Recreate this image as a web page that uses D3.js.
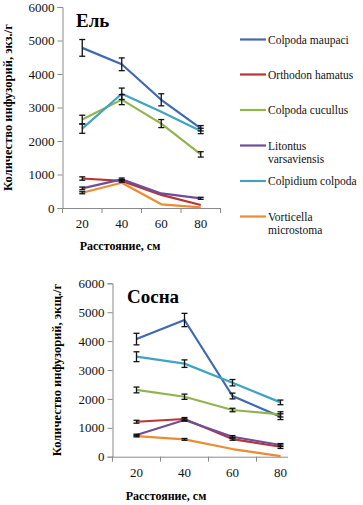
<!DOCTYPE html>
<html>
<head>
<meta charset="utf-8">
<script src="https://cdn.jsdelivr.net/npm/d3@7"></script>
</head>
<body style="margin:0">
<svg id="chart" width="363" height="505"></svg>
<script>
const distances = ["20", "40", "60", "80"];
const speciesNames = ["Colpoda maupaci", "Orthodon hamatus", "Colpoda cucullus",
  "Litontus varsaviensis", "Colpidium colpoda", "Vorticella microstoma"];
const speciesColors = ["#3f68b0", "#b83532", "#90b44e", "#6c4f9c", "#3ea4c0", "#ee8a32"];
const yTicks = [0, 1000, 2000, 3000, 4000, 5000, 6000];

// Ель
const spruceMeans = [
  [4780, 4290, 3230, 2380],
  [880, 810, 390, 90],
  [2640, 3235, 2520, 1600],
  [585, 855, 435, 290],
  [2370, 3410, 2870, 2300],
  [455, 755, 110, 20]
];
const spruceErrors = [
  [250, 190, 180, 80],
  [50, 40, 0, 0],
  [130, 150, 120, 80],
  [40, 40, 0, 30],
  [140, 170, 0, 80],
  [30, 0, 0, 0]
];

// Сосна
const pineMeans = [
  [4070, 4730, 2100, 1385],
  [1210, 1305, 610, 345],
  [2310, 2075, 1615, 1465],
  [750, 1270, 690, 405],
  [3460, 3220, 2560, 1880],
  [715, 600, 265, 20]
];
const pineErrors = [
  [200, 230, 100, 100],
  [50, 50, 40, 60],
  [100, 90, 60, 90],
  [30, 40, 40, 50],
  [170, 130, 110, 80],
  [30, 30, 0, 0]
];

const serif = "Liberation Serif";
const svg = d3.select("#chart");

function panel(opts) {
  const x = d3.scaleBand().domain(distances).range([opts.left, opts.right]);
  const y = d3.scaleLinear().domain([0, 6000]).range([opts.bottom, opts.top]);
  const g = svg.append("g");

  // y axis
  const yAxis = g.append("g")
    .attr("transform", `translate(${opts.left},0)`)
    .call(d3.axisLeft(y).tickValues(yTicks).tickSize(5).tickPadding(3).tickFormat(d3.format("d")))
    .attr("font-family", null).attr("font-size", null);
  yAxis.select(".domain").attr("stroke", "#8a8a8a");
  yAxis.selectAll(".tick line").attr("stroke", "#8a8a8a");
  yAxis.selectAll("text").attr("font-size", 13).style("font-family", serif).attr("fill", "#111");

  // x axis: labels centred in bands, tick marks between categories
  const xAxis = g.append("g")
    .attr("transform", `translate(0,${opts.bottom})`)
    .call(d3.axisBottom(x).tickSize(0).tickPadding(11))
    .attr("font-family", null).attr("font-size", null);
  xAxis.select(".domain").remove();
  xAxis.selectAll("text").attr("font-size", 13).style("font-family", serif).attr("fill", "#111");
  const axisEnd = opts.axisEnd || opts.right;
  const edges = distances.map(d => x(d)).concat([x.range()[1]]);
  g.append("line")
    .attr("x1", opts.left).attr("x2", axisEnd)
    .attr("y1", opts.bottom + 0.5).attr("y2", opts.bottom + 0.5)
    .attr("stroke", "#8a8a8a");
  g.selectAll(".xtick").data(edges.filter(e => e <= axisEnd + 0.5))
    .join("line")
    .attr("x1", d => d).attr("x2", d => d)
    .attr("y1", opts.bottom).attr("y2", opts.bottom + 5)
    .attr("stroke", "#8a8a8a");

  const cx = d => x(d) + x.bandwidth() / 2;
  const line = d3.line().x((v, i) => cx(distances[i])).y(v => y(v));

  opts.means.forEach((series, s) => {
    g.append("path")
      .datum(series)
      .attr("d", line)
      .attr("fill", "none")
      .attr("stroke", speciesColors[s])
      .attr("stroke-width", 2.2)
      .attr("stroke-linejoin", "round");
  });

  // error bars
  opts.means.forEach((series, s) => {
    series.forEach((v, i) => {
      const e = opts.errors[s][i];
      if (!e) return;
      const px = cx(distances[i]);
      const eb = g.append("g").attr("stroke", "#111").attr("stroke-width", 1.3);
      eb.append("line").attr("x1", px).attr("x2", px).attr("y1", y(v + e)).attr("y2", y(v - e));
      eb.append("line").attr("x1", px - 3).attr("x2", px + 3).attr("y1", y(v + e)).attr("y2", y(v + e));
      eb.append("line").attr("x1", px - 3).attr("x2", px + 3).attr("y1", y(v - e)).attr("y2", y(v - e));
    });
  });

  g.append("text")
    .attr("x", opts.titleX).attr("y", opts.titleY)
    .attr("font-size", 19).style("font-family", serif).style("font-weight", "bold")
    .text(opts.title);

  g.append("text")
    .attr("transform", `translate(${opts.yLabelX},${(opts.top + opts.bottom) / 2}) rotate(-90)`)
    .attr("text-anchor", "middle")
    .attr("font-size", 12.5).style("font-family", serif).style("font-weight", "bold")
    .text(opts.yLabel);

  g.append("text")
    .attr("x", opts.xLabelX).attr("y", opts.xLabelY)
    .attr("text-anchor", "middle")
    .attr("font-size", 12).style("font-family", serif).style("font-weight", "bold")
    .text("Расстояние, см");
}

panel({
  left: 62.5, right: 220.5, top: 7, bottom: 208,
  means: spruceMeans, errors: spruceErrors,
  title: "Ель", titleX: 76, titleY: 27,
  yLabel: "Количество инфузорий, экз./г", yLabelX: 12,
  xLabelX: 120, xLabelY: 250
});

panel({
  left: 112.5, right: 304.5, axisEnd: 288, top: 283.3, bottom: 456.7,
  means: pineMeans, errors: pineErrors,
  title: "Сосна", titleX: 127, titleY: 303,
  yLabel: "Количество инфузорий, экщ./г", yLabelX: 61,
  xLabelX: 166, xLabelY: 500
});

// legend
const legendRows = [39.5, 74.5, 110, 145.5, 181, 216.5];
const legend = svg.append("g");
speciesNames.forEach((name, i) => {
  const row = legend.append("g").attr("transform", `translate(240,${legendRows[i]})`);
  row.append("line").attr("x1", 0).attr("x2", 26).attr("stroke", speciesColors[i]).attr("stroke-width", 2.2);
  const words = name.split(" ");
  const twoLines = name === "Litontus varsaviensis" || name === "Vorticella microstoma";
  const t = row.append("text").attr("x", 28).attr("y", 4)
    .attr("font-size", 11.5).style("font-family", serif).attr("fill", "#111");
  if (twoLines) {
    t.append("tspan").attr("x", 28).text(words[0]);
    t.append("tspan").attr("x", 28).attr("dy", 13).text(words[1]);
  } else {
    t.text(name);
  }
});
</script>
</body>
</html>
